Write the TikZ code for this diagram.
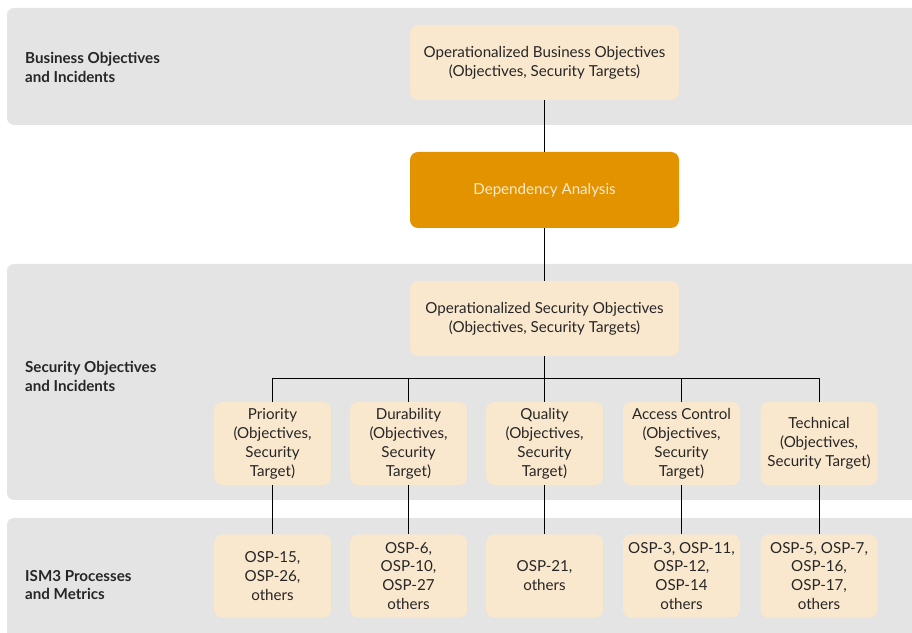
\documentclass[tikz,border=0pt]{standalone}
\usepackage{fontspec}
\setmainfont{Lato}
\definecolor{bandgray}{HTML}{E3E4E3}
\definecolor{boxcream}{HTML}{FAE8CE}
\definecolor{daorange}{HTML}{E39300}
\definecolor{dacream}{HTML}{FBEBD0}
\tikzset{
  band/.style={fill=bandgray,draw=none,rounded corners=7bp},
  objbox/.style={fill=boxcream,draw=none,rounded corners=8bp,align=center,
    font=\fontsize{15.2}{19}\selectfont,text=black!85,inner sep=0pt},
  bandlabel/.style={anchor=west,align=left,inner sep=0pt,
    font=\fontsize{15.2}{19}\selectfont\bfseries,text=black!85}
}
\begin{document}
\begin{tikzpicture}[line join=bevel,]
\useasboundingbox (0bp,0bp) rectangle (912bp,633bp);
%% bands
\fill [band] (7bp,508bp) rectangle (930bp,625bp);
\fill [band] (7bp,133bp) rectangle (930bp,369bp);
\fill [band] (7bp,-20bp) rectangle (930bp,115bp);
%%
\node (lbl_bus) at (25bp,566bp) [bandlabel] {Business Objectives\\and Incidents};
\node (lbl_sec) at (25bp,257bp) [bandlabel] {Security Objectives\\and Incidents};
\node (lbl_ism) at (25bp,48bp) [bandlabel] {ISM3 Processes\\and Metrics};
%%
\node (node_bus) at (544.5bp,570.5bp) [objbox,minimum width=269bp,minimum height=75bp] {Operationalized Business Objectives\\(Objectives, Security Targets)};
\node (node_dep) at (544.5bp,443bp) [objbox,fill=daorange,text=dacream,minimum width=269bp,minimum height=76bp] {Dependency Analysis};
\node (node_sec) at (544.5bp,314.5bp) [objbox,minimum width=269bp,minimum height=75bp] {Operationalized Security Objectives\\(Objectives, Security Targets)};
\coordinate (bus) at (544.5bp,255bp);
%% second row
\node (node_prio) at (272.5bp,189.5bp) [objbox,minimum width=117bp,minimum height=83bp] {Priority\\(Objectives,\\Security\\Target)};
\node (node_dura) at (408.5bp,189.5bp) [objbox,minimum width=117bp,minimum height=83bp] {Durability\\(Objectives,\\Security\\Target)};
\node (node_qual) at (544.5bp,189.5bp) [objbox,minimum width=117bp,minimum height=83bp] {Quality\\(Objectives,\\Security\\Target)};
\node (node_acc) at (681.5bp,189.5bp) [objbox,minimum width=117bp,minimum height=83bp] {Access Control\\(Objectives,\\Security\\Target)};
\node (node_tech) at (819bp,189.5bp) [objbox,minimum width=117bp,minimum height=83bp] {Technical\\(Objectives,\\Security Target)};
%% processes
\node (osp_prio) at (272.5bp,57bp) [objbox,minimum width=117bp,minimum height=83bp] {OSP-15,\\OSP-26,\\others};
\node (osp_dura) at (408.5bp,57bp) [objbox,minimum width=117bp,minimum height=83bp] {OSP-6,\\OSP-10,\\OSP-27\\others};
\node (osp_qual) at (544.5bp,57bp) [objbox,minimum width=117bp,minimum height=83bp] {OSP-21,\\others};
\node (osp_acc) at (681.5bp,57bp) [objbox,minimum width=117bp,minimum height=83bp] {OSP-3, OSP-11,\\OSP-12,\\OSP-14\\others};
\node (osp_tech) at (819bp,57bp) [objbox,minimum width=117bp,minimum height=83bp] {OSP-5, OSP-7,\\OSP-16,\\OSP-17,\\others};
%%
\draw [black] (node_bus) -- (node_dep);
\draw [black] (node_dep) -- (node_sec);
\draw [black] (node_sec) -- (bus);
\foreach \n in {prio,dura,qual,acc,tech} {
  \draw [black] (node_\n.north) |- (bus);
  \draw [black] (node_\n) -- (osp_\n);
}
%
\end{tikzpicture}
\end{document}
